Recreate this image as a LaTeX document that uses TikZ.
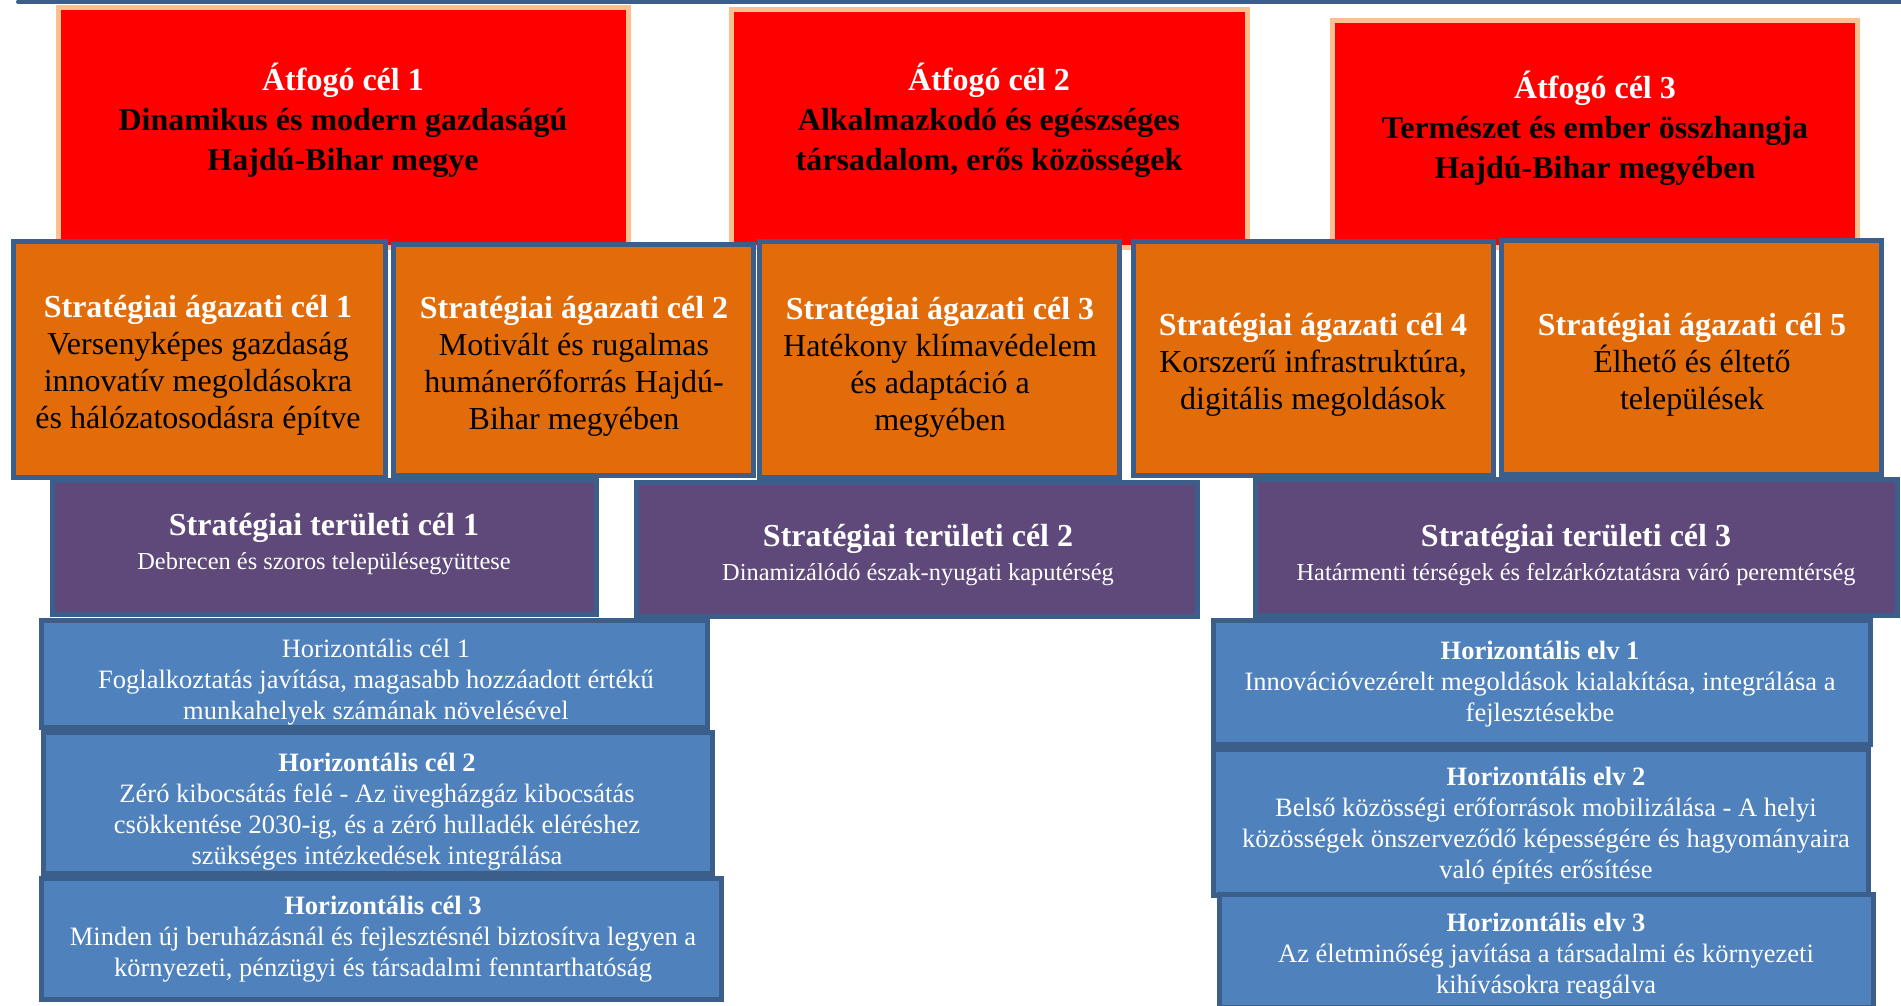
\documentclass[tikz,border=0pt]{standalone}
\usepackage{fontspec}
\setmainfont{Liberation Serif}
\usepackage{tikz}
\usetikzlibrary{positioning}

\definecolor{frameblue}{RGB}{60,94,138}
\definecolor{peach}{RGB}{250,192,144}
\definecolor{goalred}{RGB}{255,0,0}
\definecolor{sectororange}{RGB}{227,108,10}
\definecolor{areapurple}{RGB}{95,73,122}
\definecolor{horizblue}{RGB}{79,129,189}

\begin{document}
\begin{tikzpicture}[x=1pt, y=-1pt]
  \useasboundingbox (0,0) rectangle (1901,1005);
  \clip (0,0) rectangle (1901,1005);

  % ---- Styles ---------------------------------------------------
  \tikzstyle{box}=[rectangle, inner sep=0pt, line width=5pt]
  \tikzstyle{goal}=[box, draw=peach, fill=goalred]
  \tikzstyle{sector}=[box, draw=frameblue, fill=sectororange]
  \tikzstyle{area}=[box, draw=frameblue, fill=areapurple]
  \tikzstyle{horiz}=[box, draw=frameblue, fill=horizblue]
  \tikzstyle{goaltxt}=[align=center, inner sep=0pt,
                       font=\fontsize{32}{40}\selectfont\bfseries]
  \tikzstyle{sectortxt}=[align=center, inner sep=0pt,
                         font=\fontsize{32}{37}\selectfont]
  \tikzstyle{areatxt}=[align=center, inner sep=0pt, text=white,
                       font=\fontsize{24.4}{34}\selectfont]
  \tikzstyle{horiztxt}=[align=center, inner sep=0pt, text=white,
                        font=\fontsize{26.5}{31}\selectfont]

  % ---- Top rule -------------------------------------------------
  \coordinate (ruleL) at (18,1.5);
  \coordinate (ruleR) at (1905,1.5);
  \draw[frameblue, line width=4pt, line cap=round] (ruleL) -- (ruleR);

  % ---- Overarching goals (red) ----------------------------------
  \node[goal, minimum width=570pt, minimum height=240pt] (atfogo1) at (343.5,127.5) {};
  \node[goal, minimum width=516pt, minimum height=238pt] (atfogo2) at (989.5,128.5) {};
  \node[goal, minimum width=525pt, minimum height=227pt] (atfogo3) at (1595,134) {};

  \node[goaltxt] (atfogo1txt) at (343,120.5)
    {\textcolor{white}{Átfogó cél 1}\\Dinamikus és modern gazdaságú\\Hajdú-Bihar megye};
  \node[goaltxt] (atfogo2txt) at (989,120.5)
    {\textcolor{white}{Átfogó cél 2}\\Alkalmazkodó és egészséges\\társadalom, erős közösségek};
  \node[goaltxt] (atfogo3txt) at (1595,128.5)
    {\textcolor{white}{Átfogó cél 3}\\Természet és ember összhangja\\Hajdú-Bihar megyében};

  % ---- Sectoral goals (orange) ----------------------------------
  \node[sector, minimum width=372pt, minimum height=236pt] (agazati1) at (199.5,359.5) {};
  \node[sector, minimum width=360pt, minimum height=231pt] (agazati2) at (573.5,360) {};
  \node[sector, minimum width=360pt, minimum height=236pt] (agazati3) at (939.5,359.5) {};
  \node[sector, minimum width=360pt, minimum height=234pt] (agazati4) at (1313.5,358.5) {};
  \node[sector, minimum width=380pt, minimum height=234pt] (agazati5) at (1691.5,357.5) {};

  \node[sectortxt] (agazati1txt) at (198,365)
    {\textcolor{white}{\textbf{Stratégiai ágazati cél 1}}\\Versenyképes gazdaság\\innovatív megoldásokra\\és hálózatosodásra építve};
  \node[sectortxt] (agazati2txt) at (574,366.5)
    {\textcolor{white}{\textbf{Stratégiai ágazati cél 2}}\\Motivált és rugalmas\\humánerőforrás Hajdú-\\Bihar megyében};
  \node[sectortxt] (agazati3txt) at (940,367.5)
    {\textcolor{white}{\textbf{Stratégiai ágazati cél 3}}\\Hatékony klímavédelem\\és adaptáció a\\megyében};
  \node[sectortxt] (agazati4txt) at (1313,365)
    {\textcolor{white}{\textbf{Stratégiai ágazati cél 4}}\\Korszerű infrastruktúra,\\digitális megoldások};
  \node[sectortxt] (agazati5txt) at (1692,365)
    {\textcolor{white}{\textbf{Stratégiai ágazati cél 5}}\\Élhető és éltető\\települések};

  % ---- Territorial goals (purple) -------------------------------
  \node[area, minimum width=544pt, minimum height=134pt] (teruleti1) at (324.5,547.5) {};
  \node[area, minimum width=561pt, minimum height=134pt] (teruleti2) at (917,549.5) {};
  \node[area, minimum width=642pt, minimum height=136pt] (teruleti3) at (1576.5,547.5) {};

  \node[areatxt] (teruleti1txt) at (324,544.5)
    {\textbf{\fontsize{32}{34}\selectfont Stratégiai területi cél 1}\\Debrecen és szoros településegyüttese};
  \node[areatxt] (teruleti2txt) at (918,555.5)
    {\textbf{\fontsize{32}{34}\selectfont Stratégiai területi cél 2}\\Dinamizálódó észak-nyugati kaputérség};
  \node[areatxt] (teruleti3txt) at (1576,555.5)
    {\textbf{\fontsize{32}{34}\selectfont Stratégiai területi cél 3}\\Határmenti térségek és felzárkóztatásra váró peremtérség};

  % ---- Horizontal goals (left, blue) ----------------------------
  \node[horiz, minimum width=666pt, minimum height=107pt] (hcel1) at (374.5,674) {};
  \node[horiz, minimum width=669pt, minimum height=141pt] (hcel2) at (378,803) {};
  \node[horiz, minimum width=680pt, minimum height=121pt] (hcel3) at (381.5,939) {};

  \node[horiztxt] (hcel1txt) at (376,682.5)
    {Horizontális cél 1\\Foglalkoztatás javítása, magasabb hozzáadott értékű\\munkahelyek számának növelésével};
  \node[horiztxt] (hcel2txt) at (377,812)
    {\textbf{Horizontális cél 2}\\Zéró kibocsátás felé - Az üvegházgáz kibocsátás\\csökkentése 2030-ig, és a zéró hulladék eléréshez\\szükséges intézkedések integrálása};
  \node[horiztxt] (hcel3txt) at (383,939.5)
    {\textbf{Horizontális cél 3}\\Minden új beruházásnál és fejlesztésnél biztosítva legyen a\\környezeti, pénzügyi és társadalmi fenntarthatóság};

  % ---- Horizontal principles (right, blue) ----------------------
  \node[horiz, minimum width=657pt, minimum height=124pt] (helv1) at (1542,682.5) {};
  \node[horiz, minimum width=655pt, minimum height=146pt] (helv2) at (1541,822.5) {};
  \node[horiz, minimum width=654pt, minimum height=113pt] (helv3) at (1546.5,951) {};

  \node[horiztxt] (helv1txt) at (1540,684.5)
    {\textbf{Horizontális elv 1}\\Innovációvezérelt megoldások kialakítása, integrálása a\\fejlesztésekbe};
  \node[horiztxt] (helv2txt) at (1546,826)
    {\textbf{Horizontális elv 2}\\Belső közösségi erőforrások mobilizálása - A helyi\\közösségek önszerveződő képességére és hagyományaira\\való építés erősítése};
  \node[horiztxt] (helv3txt) at (1546,956.5)
    {\textbf{Horizontális elv 3}\\Az életminőség javítása a társadalmi és környezeti\\kihívásokra reagálva};

\end{tikzpicture}
\end{document}
